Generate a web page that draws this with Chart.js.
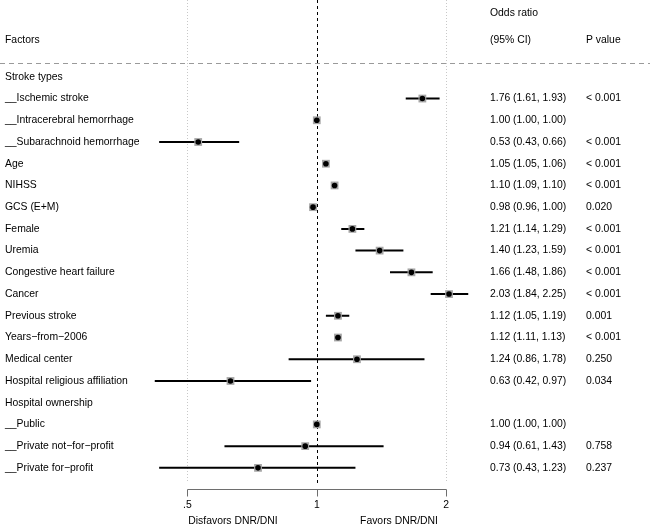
<!DOCTYPE html>
<html lang="en">
<head>
    <meta charset="UTF-8">
    <title>Forest plot - DNR/DNI</title>
    <script src="https://cdn.jsdelivr.net/npm/chart.js"></script>
    <style>
        body { margin: 0; background: #fff; }
    </style>
</head>
<body>
    <canvas id="myChart" width="650" height="525"></canvas>

    <script>
        // rows of the table, top to bottom
        const factors = [
            'Stroke types',
            '__Ischemic stroke',
            '__Intracerebral hemorrhage',
            '__Subarachnoid hemorrhage',
            'Age',
            'NIHSS',
            'GCS (E+M)',
            'Female',
            'Uremia',
            'Congestive heart failure',
            'Cancer',
            'Previous stroke',
            'Years\u2212from\u22122006',
            'Medical center',
            'Hospital religious affiliation',
            'Hospital ownership',
            '__Public',
            '__Private not\u2212for\u2212profit',
            '__Private for\u2212profit'
        ];
        const oddsRatio = [null, 1.76, 1.00, 0.53, 1.05, 1.10, 0.98, 1.21, 1.40, 1.66, 2.03, 1.12, 1.12, 1.24, 0.63, null, 1.00, 0.94, 0.73];
        const ciLower   = [null, 1.61, 1.00, 0.43, 1.05, 1.09, 0.96, 1.14, 1.23, 1.48, 1.84, 1.05, 1.11, 0.86, 0.42, null, 1.00, 0.61, 0.43];
        const ciUpper   = [null, 1.93, 1.00, 0.66, 1.06, 1.10, 1.00, 1.29, 1.59, 1.86, 2.25, 1.19, 1.13, 1.78, 0.97, null, 1.00, 1.43, 1.23];
        const pValues   = ['', '< 0.001', '', '< 0.001', '< 0.001', '< 0.001', '0.020', '< 0.001', '< 0.001', '< 0.001', '< 0.001', '0.001', '< 0.001', '0.250', '0.034', '', '', '0.758', '0.237'];
        const xTicks = [0.5, 1, 2];
        const xTickLabels = ['.5', '1', '2'];

        const FONT = '10.4px "Liberation Sans", Arial, sans-serif';

        // build datasets
        const points = [];
        const ciSegments = [];
        factors.forEach((f, i) => {
            if (oddsRatio[i] === null) return;
            points.push({ x: oddsRatio[i], y: i });
            ciSegments.push({ x: ciLower[i], y: i }, { x: ciUpper[i], y: i }, { x: ciUpper[i], y: null });
        });

        // text columns, reference lines and the bottom axis
        const tablePlugin = {
            id: 'table',
            beforeDatasetsDraw(chart) {
                const ctx = chart.ctx;
                const xs = chart.scales.x;
                const area = chart.chartArea;
                ctx.save();
                ctx.lineWidth = 1;

                // horizontal dashed separator
                ctx.strokeStyle = '#9a9a9a';
                ctx.setLineDash([5, 4]);
                ctx.beginPath();
                ctx.moveTo(0, 63.5);
                ctx.lineTo(area.right, 63.5);
                ctx.stroke();

                // dotted grid at .5 and 2
                ctx.strokeStyle = '#c8c8c8';
                ctx.setLineDash([1, 2]);
                [0.5, 2].forEach(v => {
                    const px = Math.round(xs.getPixelForValue(v)) + 0.5;
                    ctx.beginPath();
                    ctx.moveTo(px, 0);
                    ctx.lineTo(px, 483);
                    ctx.stroke();
                });

                // null line
                ctx.strokeStyle = '#000';
                ctx.setLineDash([3, 3]);
                const p1 = Math.round(xs.getPixelForValue(1)) + 0.5;
                ctx.beginPath();
                ctx.moveTo(p1, 0);
                ctx.lineTo(p1, 484);
                ctx.stroke();
                ctx.setLineDash([]);

                // bottom axis
                const axisY = 489.5;
                ctx.strokeStyle = '#6e6e6e';
                ctx.beginPath();
                ctx.moveTo(Math.round(xs.getPixelForValue(xTicks[0])) + 0.5, axisY);
                ctx.lineTo(Math.round(xs.getPixelForValue(xTicks[xTicks.length - 1])) + 0.5, axisY);
                xTicks.forEach(v => {
                    const px = Math.round(xs.getPixelForValue(v)) + 0.5;
                    ctx.moveTo(px, axisY);
                    ctx.lineTo(px, axisY + 7);
                });
                ctx.stroke();

                ctx.fillStyle = '#000';
                ctx.font = FONT;
                ctx.textBaseline = 'middle';
                ctx.textAlign = 'center';
                xTicks.forEach((v, i) => {
                    ctx.fillText(xTickLabels[i], xs.getPixelForValue(v), 505);
                });
                ctx.fillText('Disfavors DNR/DNI', 233, 521);
                ctx.fillText('Favors DNR/DNI', 399, 521);

                // headers
                ctx.textAlign = 'left';
                ctx.fillText('Factors', 5, 40);
                ctx.fillText('Odds ratio', 490, 13);
                ctx.fillText('(95% CI)', 490, 40);
                ctx.fillText('P value', 586, 40);

                // rows
                const ys = chart.scales.y;
                factors.forEach((f, i) => {
                    const py = ys.getPixelForValue(i);
                    ctx.fillText(f, 5, py);
                    if (oddsRatio[i] !== null) {
                        const txt = oddsRatio[i].toFixed(2) + ' (' + ciLower[i].toFixed(2) + ', ' + ciUpper[i].toFixed(2) + ')';
                        ctx.fillText(txt, 490, py);
                    }
                    if (pValues[i]) ctx.fillText(pValues[i], 586, py);
                });
                ctx.restore();
            }
        };

        const ctx = document.getElementById('myChart').getContext('2d');
        const myChart = new Chart(ctx, {
            type: 'scatter',
            data: {
                datasets: [
                    {
                        label: 'OR',
                        data: points,
                        pointStyle: 'circle',
                        pointRadius: 2.8,
                        backgroundColor: '#000',
                        borderWidth: 0,
                        order: 0
                    },
                    {
                        label: 'weight',
                        data: points,
                        pointStyle: 'rect',
                        pointRadius: 5.5,
                        backgroundColor: '#a6a6a6',
                        borderWidth: 0,
                        order: 1
                    },
                    {
                        label: '95% CI',
                        type: 'line',
                        data: ciSegments,
                        showLine: true,
                        spanGaps: false,
                        pointRadius: 0,
                        borderColor: '#000',
                        borderWidth: 2,
                        order: 2
                    }
                ]
            },
            options: {
                responsive: false,
                animation: false,
                layout: { padding: 0, autoPadding: false },
                plugins: {
                    legend: { display: false },
                    tooltip: { enabled: false }
                },
                scales: {
                    x: {
                        type: 'logarithmic',
                        display: false,
                        min: 0.1834,
                        max: 5.954
                    },
                    y: {
                        type: 'linear',
                        display: false,
                        reverse: true,
                        min: -3.536,
                        max: 20.63
                    }
                }
            },
            plugins: [tablePlugin]
        });
    </script>
</body>
</html>
